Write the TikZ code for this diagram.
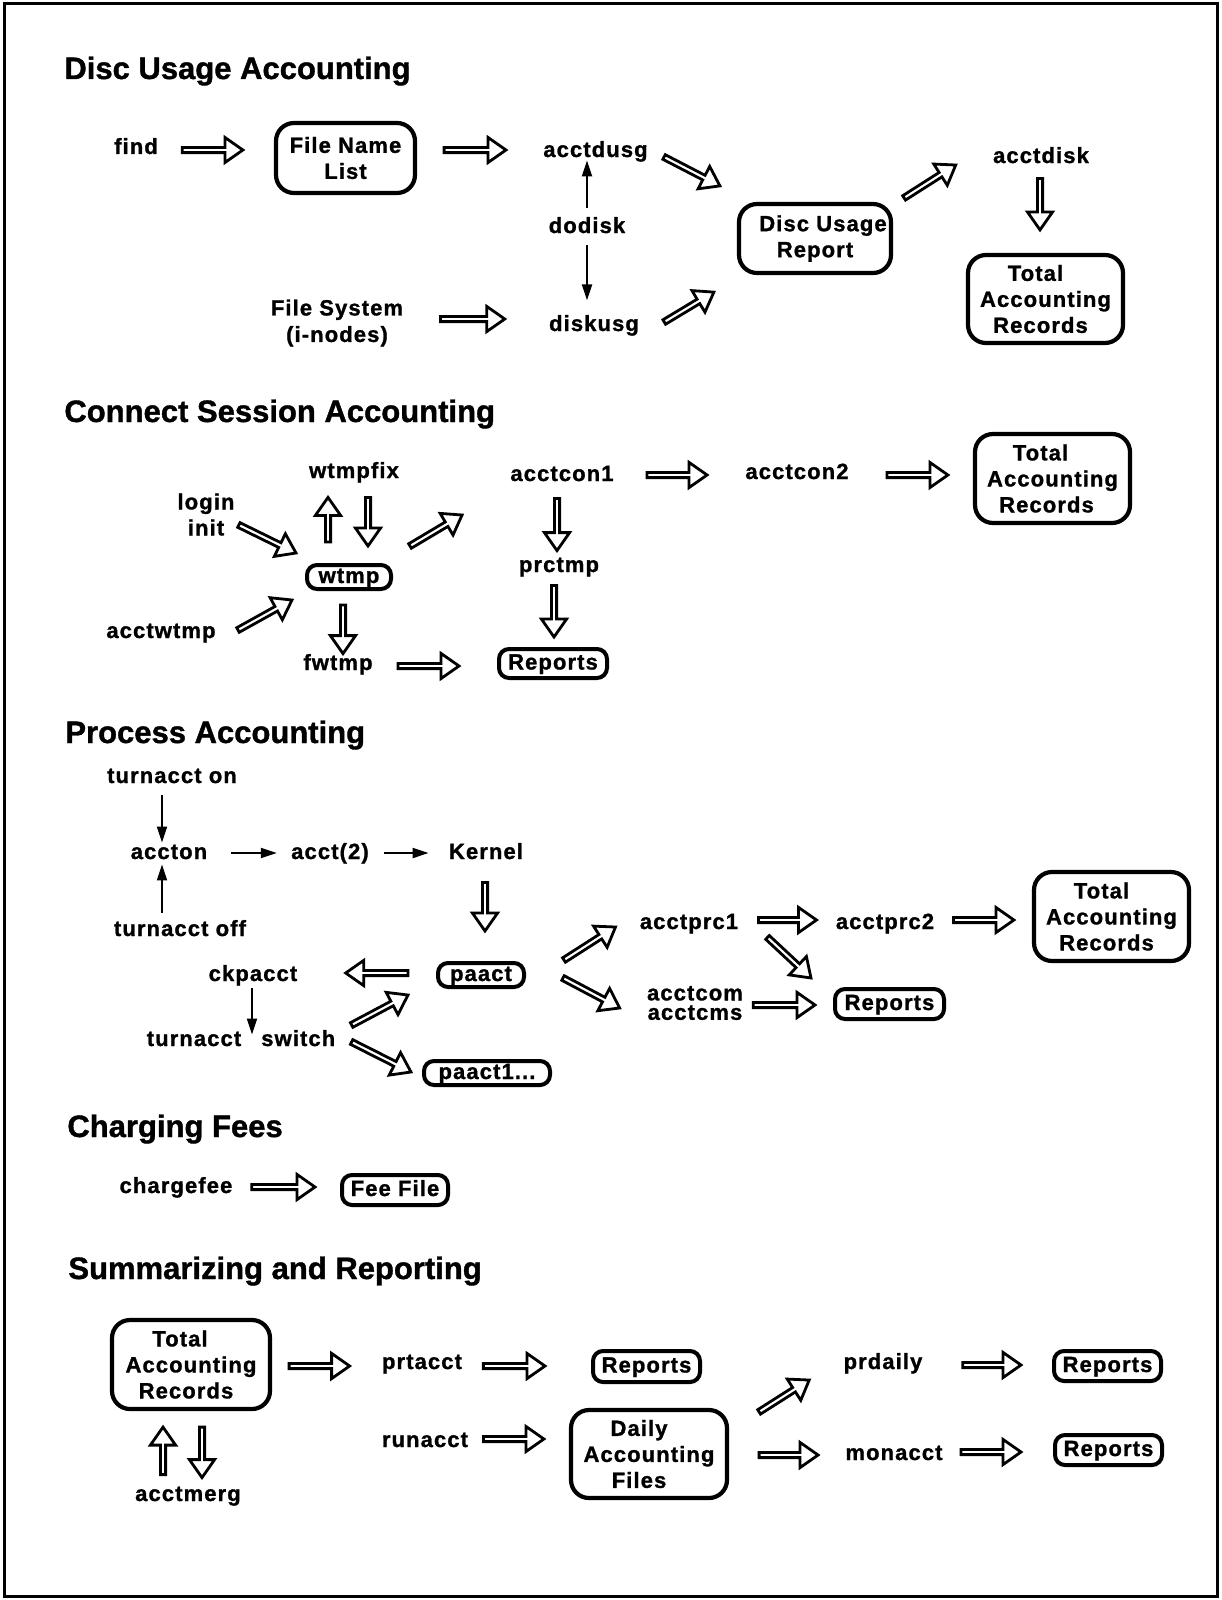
\documentclass[tikz,border=0pt]{standalone}
\usepackage{fontspec}
\setmainfont{Liberation Sans}[LetterSpace=5, BoldFeatures={FakeBold=1.2}]
\newfontfamily\headfont{Liberation Sans}[BoldFeatures={FakeBold=1.2}]
\usetikzlibrary{calc,arrows.meta}

% geometry of the hollow block arrows
\newcommand\blkshaft{1.3pt}
\newcommand\blkhead{6.3pt}
\newcommand\blklen{9pt}
% \barrow{tail}{tip}: hollow block arrow from one point to another
\newcommand\barrow[2]{%
  \draw[hollow] let \p1=#1, \p2=#2,
      \n1={atan2(\y2-\y1,\x2-\x1)}, \n2={veclen(\x2-\x1,\y2-\y1)} in
    ([shift={(\p1)},rotate=\n1]0pt,\blkshaft)
    -- ([shift={(\p1)},rotate=\n1]\n2+0pt-\blklen,\blkshaft)
    -- ([shift={(\p1)},rotate=\n1]\n2+0pt-\blklen,\blkhead)
    -- ([shift={(\p1)},rotate=\n1]\n2+0pt,0pt)
    -- ([shift={(\p1)},rotate=\n1]\n2+0pt-\blklen,-\blkhead)
    -- ([shift={(\p1)},rotate=\n1]\n2+0pt-\blklen,-\blkshaft)
    -- ([shift={(\p1)},rotate=\n1]0pt,-\blkshaft) -- cycle;}

\tikzset{
  txt/.style={inner sep=0pt, font=\fontsize{11}{13}\selectfont\bfseries, align=center},
  lbl/.style={txt, text height=7.5pt, text depth=1.5pt},
  head/.style={anchor=west, inner sep=0pt, text height=11pt, text depth=0pt,
    font=\headfont\fontsize{15.5}{18}\selectfont\bfseries},
  box/.style={txt, draw, line width=2.1pt, rounded corners=9pt},
  smallbox/.style={lbl, draw, line width=2pt, rounded corners=5pt},
  hollow/.style={draw, fill=white, line width=1.4pt, line join=miter},
  thinarrow/.style={line width=1pt, -{Triangle[length=8pt,width=5pt]}},
}

\begin{document}
\begin{tikzpicture}[x=0.5pt, y=-0.5pt]
\useasboundingbox (0,0) rectangle (1221,1600);
\draw[line width=1.5pt] (4,4) rectangle (1217,1596);

% ---------------- Disc Usage Accounting ----------------
\node[head] (h1) at (64,68) {Disc Usage Accounting};
\node[lbl] (find) at (136,148) {find};
\node[box, minimum width=69.5pt, minimum height=35pt] (fnl) at (345.5,158) {File Name\\List};
\node[txt, font=\fontsize{11}{13.25}\selectfont\bfseries] (fsys) at (337,323) {File System\\(i-nodes)};
\node[lbl] (acctdusg) at (595.5,151) {acctdusg};
\node[lbl] (dodisk) at (587,227) {dodisk};
\node[lbl] (diskusg) at (594,325) {diskusg};
\node[box, minimum width=76pt, minimum height=34.5pt] (dur) at (815,238.5) {\hspace*{8pt}Disc Usage\\Report};
\node[lbl] (acctdisk) at (1041,157) {acctdisk};
\node[box, minimum width=77.5pt, minimum height=44pt] (tar1) at (1045.5,299)
  {Total\hspace*{10pt}\\Accounting\\Records\hspace*{5pt}};

\barrow{($(find.east)+(24,2)$)}{($(fnl.west)+(-31,-8)$)}
\barrow{($(fnl.east)+(27,-8)$)}{($(acctdusg.west)+(-37,-1)$)}
\barrow{($(fsys.east)+(37,-4)$)}{($(diskusg.west)+(-44,-6)$)}
\barrow{($(acctdusg.east)+(16,6)$)}{($(dur.north west)+(-17,-16)$)}
\barrow{($(diskusg.east)+(25,-3)$)}{($(dur.south west)+(-23,17)$)}
\barrow{($(dur.north east)+(11,-4)$)}{($(acctdisk.west)+(-37,8)$)}
\barrow{($(acctdisk.south)+(-1,12)$)}{($(tar1.north)+(-5.5,-23)$)}
\draw[thinarrow] ($(dodisk.north)+(0,-10)$) -- (dodisk.north |- acctdusg.south);
\draw[thinarrow] ($(dodisk.south)+(0,9)$) -- ($(dodisk.south)+(0,64)$);

% ---------------- Connect Session Accounting ----------------
\node[head] (h2) at (64,411) {Connect Session Accounting};
\node[lbl] (wtmpfix) at (354,472) {wtmpfix};
\node[txt] (login) at (206,514.5) {login\\init};
\node[smallbox, minimum width=42pt, minimum height=12pt] (wtmp) at (349,577) {wtmp};
\node[lbl] (acctwtmp) at (161,632) {acctwtmp};
\node[lbl] (fwtmp) at (338,664) {fwtmp};
\node[lbl] (acctcon1) at (562,475) {acctcon1};
\node[lbl] (acctcon2) at (797,473) {acctcon2};
\node[box, minimum width=77.5pt, minimum height=44.5pt] (tar2) at (1052.5,478.5)
  {Total\hspace*{12pt}\\Accounting\\Records\hspace*{6pt}};
\node[lbl] (prctmp) at (559,566) {prctmp};
\node[smallbox, minimum width=54pt, minimum height=14.5pt] (rep2) at (553,663.5) {Reports};

\barrow{($(login.east)+(4,10.5)$)}{($(wtmp.north west)+(-9,-10)$)}
\barrow{($(wtmp.north)+(-21,-21)$)}{($(wtmpfix.south)+(-26,16)$)}
\barrow{($(wtmpfix.south)+(14,16)$)}{($(wtmp.north)+(19,-17)$)}
\barrow{($(wtmp.north east)+(17,-17)$)}{($(acctcon1.west)+(-48,40)$)}
\barrow{($(acctwtmp.east)+(22,-2)$)}{($(wtmp.south west)+(-13,9)$)}
\barrow{($(wtmp.south)+(-6,14)$)}{($(fwtmp.north)+(5,-1)$)}
\barrow{($(fwtmp.east)+(25,2)$)}{($(rep2.west)+(-38,2.5)$)}
\barrow{($(acctcon1.east)+(33,0)$)}{($(acctcon2.west)+(-38,2)$)}
\barrow{($(acctcon2.east)+(38,2)$)}{($(tar2.west)+(-25,-3.5)$)}
\barrow{($(acctcon1.south)+(-5,14)$)}{($(prctmp.north)+(-2,-6)$)}
\barrow{($(prctmp.south)+(-5,10)$)}{($(rep2.north)+(1,-10)$)}

% ---------------- Process Accounting ----------------
\node[head] (h3) at (65,732) {Process Accounting};
\node[lbl] (ton) at (172,777) {turnacct on};
\node[lbl] (accton) at (169,853) {accton};
\node[lbl] (toff) at (180,930) {turnacct off};
\node[lbl] (acct2) at (330,853) {acct(2)};
\node[lbl] (kernel) at (486,853) {Kernel};
\node[smallbox, minimum width=43pt, minimum height=12pt] (paact) at (481,975) {paact};
\node[lbl] (ckpacct) at (253,975) {ckpacct};
\node[lbl] (tsw) at (241,1040) {turnacct\hspace{10pt}switch};
\node[smallbox, minimum width=63pt, minimum height=12pt] (paact1) at (487,1073) {paact1...};
\node[lbl] (acctprc1) at (689,923) {acctprc1};
\node[lbl] (acctprc2) at (885,923) {acctprc2};
\node[box, minimum width=77.5pt, minimum height=44.5pt] (tar3) at (1111.5,916.5)
  {Total\hspace*{10pt}\\Accounting\\Records\hspace*{5pt}};
\node[txt, font=\fontsize{11}{9.7}\selectfont\bfseries] (acctcom) at (695,1003) {acctcom\\acctcms};
\node[smallbox, minimum width=54.5pt, minimum height=15pt] (rep3) at (889.5,1004) {Reports};

\draw[thinarrow] ($(ton.south)+(-10,9)$) -- ($(accton.north)+(-7,-1)$);
\draw[thinarrow] ($(toff.north)+(-18,-8)$) -- ($(accton.south)+(-7,2)$);
\draw[thinarrow] ($(accton.east)+(23,0)$) -- ($(acct2.west)+(-14,0)$);
\draw[thinarrow] ($(acct2.east)+(15,0)$) -- ($(kernel.west)+(-20,0)$);
\draw[thinarrow] ($(ckpacct.south)+(-1,4)$) -- ($(tsw.north)+(11,4)$);

\barrow{($(kernel.south)+(-1,20)$)}{($(paact.north)+(4,-30)$)}
\barrow{($(paact.west)+(-28,-2)$)}{($(ckpacct.east)+(48,-2)$)}
\barrow{($(tsw.east)+(16,-15)$)}{($(paact.south west)+(-28,6)$)}
\barrow{($(tsw.east)+(16,2)$)}{($(paact1.west)+(-11,-1)$)}
\barrow{($(paact.east)+(38,-15)$)}{($(acctprc1.west)+(-24,4)$)}
\barrow{($(paact.east)+(37,3)$)}{($(acctcom.west)+(-27,5)$)}
\barrow{($(acctprc1.east)+(20,-3)$)}{($(acctprc2.west)+(-19,-3)$)}
\barrow{($(acctprc2.east)+(19,-3)$)}{($(tar3.west)+(-18,3.5)$)}
\barrow{($(acctprc1.south east)+(29,5)$)}{($(rep3.north west)+(-22,-9)$)}
\barrow{($(acctcom.east)+(10,2)$)}{($(rep3.west)+(-18,1)$)}

% ---------------- Charging Fees ----------------
\node[head] (h4) at (67,1126) {Charging Fees};
\node[lbl] (chargefee) at (176,1187) {chargefee};
\node[smallbox, minimum width=53pt, minimum height=15pt] (fee) at (395,1190) {Fee File};
\barrow{($(chargefee.east)+(19,0)$)}{($(fee.west)+(-25,-3)$)}

% ---------------- Summarizing and Reporting ----------------
\node[head] (h5) at (68,1268) {Summarizing and Reporting};
\node[box, minimum width=79pt, minimum height=44.5pt] (tar4) at (191,1364.5)
  {Total\hspace*{11pt}\\Accounting\\Records\hspace*{5pt}};
\node[lbl] (acctmerg) at (188,1495) {acctmerg};
\node[lbl] (prtacct) at (422,1363) {prtacct};
\node[smallbox, minimum width=53.5pt, minimum height=15.5pt] (rep4) at (646.5,1366.5) {Reports};
\node[lbl] (runacct) at (425,1441) {runacct};
\node[box, minimum width=78pt, minimum height=44pt] (daf) at (649,1454)
  {Daily\hspace*{10pt}\\Accounting\\Files\hspace*{10pt}};
\node[lbl] (prdaily) at (883,1363) {prdaily};
\node[lbl] (monacct) at (894,1454) {monacct};
\node[smallbox, minimum width=53.5pt, minimum height=15pt] (rep5) at (1107.5,1366) {Reports};
\node[smallbox, minimum width=53.5pt, minimum height=15pt] (rep6) at (1108.5,1450) {Reports};

\barrow{($(tar4.east)+(17,1.5)$)}{($(prtacct.west)+(-32,3)$)}
\barrow{($(prtacct.east)+(21,3)$)}{($(rep4.west)+(-46,-0.5)$)}
\barrow{($(runacct.east)+(15,-2)$)}{($(daf.west)+(-25,-15)$)}
\barrow{($(daf.north east)+(30,4)$)}{($(prdaily.west)+(-34,17)$)}
\barrow{($(daf.east)+(30,1)$)}{($(monacct.west)+(-27,1)$)}
\barrow{($(prdaily.east)+(40,2)$)}{($(rep5.west)+(-31,-1)$)}
\barrow{($(monacct.east)+(18,-2)$)}{($(rep6.west)+(-32,2)$)}
\barrow{($(acctmerg.north)+(-25,-11)$)}{($(tar4.south)+(-28,16)$)}
\barrow{($(tar4.south)+(11,16)$)}{($(acctmerg.north)+(14,-8)$)}
\end{tikzpicture}
\end{document}
